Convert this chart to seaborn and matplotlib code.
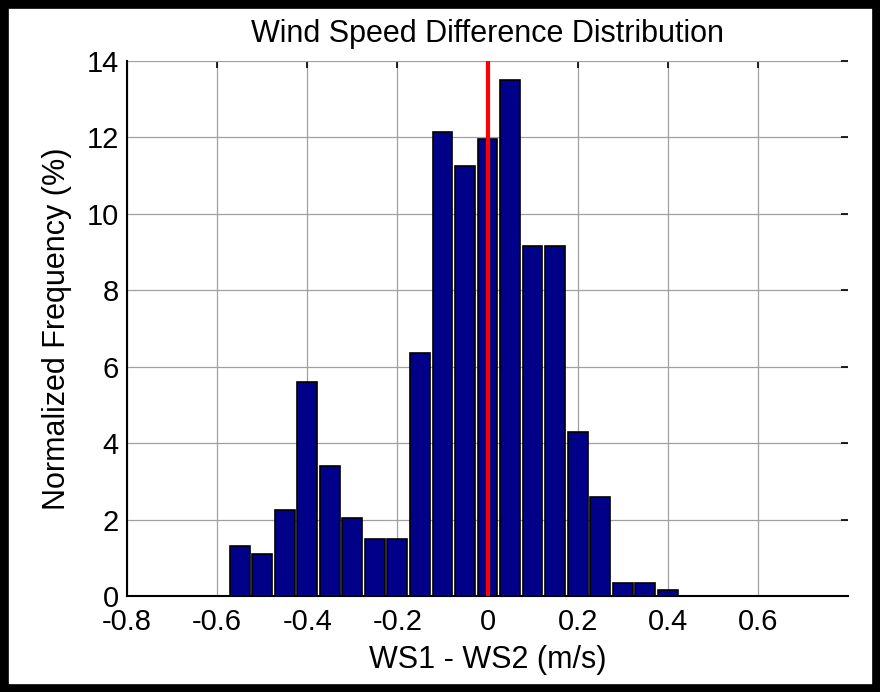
import matplotlib
matplotlib.use("Agg")
import matplotlib.pyplot as plt
import seaborn as sns
import numpy as np
from matplotlib.patches import Rectangle

centers = [-0.80, -0.75, -0.70, -0.65, -0.60, -0.55, -0.50, -0.45, -0.40, -0.35,
           -0.30, -0.25, -0.20, -0.15, -0.10, -0.05, 0.00, 0.05, 0.10, 0.15,
           0.20, 0.25, 0.30, 0.35, 0.40, 0.45, 0.50, 0.55, 0.60, 0.65,
           0.70, 0.75]
freq = [0, 0, 0, 0, 0, 1.3, 1.1, 2.25, 5.6, 3.4,
        2.05, 1.5, 1.5, 6.35, 12.15, 11.25, 11.95, 13.5, 9.15, 9.15,
        4.3, 2.6, 0.35, 0.35, 0.15, 0, 0, 0, 0, 0,
        0, 0]
xticks = [-0.8, -0.6, -0.4, -0.2, 0, 0.2, 0.4, 0.6]
xtick_labels = ["-0.8", "-0.6", "-0.4", "-0.2", "0", "0.2", "0.4", "0.6"]
yticks = [0, 2, 4, 6, 8, 10, 12, 14]

sns.set_style("white")
plt.rcParams['font.family'] = ['Liberation Sans', 'DejaVu Sans']
plt.rcParams['text.color'] = 'black'
plt.rcParams['axes.labelcolor'] = 'black'

fig = plt.figure(figsize=(8.8, 6.92), dpi=100)
ax = fig.add_axes([127/880, 1-596/692, (848-127)/880, (596-61)/692])

sns.barplot(x=centers, y=freq, native_scale=True, color="#000088",
            edgecolor="black", linewidth=1.2, width=0.88, saturation=1, ax=ax,
            zorder=3)
ax.axvline(0, color="#ff0000", lw=3, zorder=4)

ax.set_xlim(-0.8, 0.80)
ax.set_ylim(0, 14)
ax.set_xticks(xticks)
ax.set_xticklabels(xtick_labels)
ax.set_yticks(yticks)
ax.grid(True, color="#a0a0a0", lw=0.9, zorder=0)
ax.set_axisbelow(True)
for s in ["top", "right"]:
    ax.spines[s].set_visible(False)
for s in ["left", "bottom"]:
    ax.spines[s].set_color("black")
    ax.spines[s].set_linewidth(1.5)
ax.tick_params(axis="both", direction="in", length=5, width=1.2, colors="black",
               labelsize=21, top=True, right=True)
ax.tick_params(axis="x", pad=9)
ax.tick_params(axis="y", pad=6)
ax.set_xlabel("WS1 - WS2 (m/s)", fontsize=22, labelpad=6)
ax.set_ylabel("Normalized Frequency (%)", fontsize=22, labelpad=10)
ax.set_title("Wind Speed Difference Distribution", fontsize=22, pad=14)

fig.patches.append(Rectangle((0, 0), 1, 1, transform=fig.transFigure,
                             fill=False, edgecolor="black", lw=12, zorder=10))
fig.savefig("out.png", dpi=100)
